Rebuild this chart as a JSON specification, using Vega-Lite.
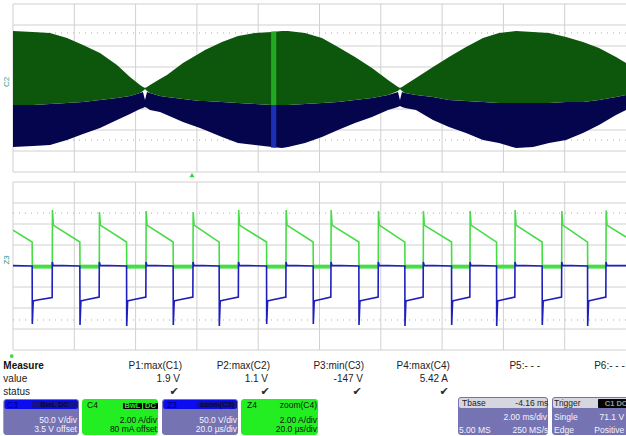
{
  "$schema": "https://vega.github.io/schema/vega-lite/v6.json",
  "padding": 0,
  "spacing": 0,
  "bounds": "flush",
  "background": "#ffffff",
  "config": {"view": {"stroke": null}, "text": {"font": "Liberation Sans"}, "legend": {"disable": true}},
  "datasets": {
    "topGridX": [{"t": -5.84}, {"t": -3.84}, {"t": -1.84}, {"t": 0.16}, {"t": 2.16}, {"t": 4.16}, {"t": 6.16}, {"t": 8.16}, {"t": 10.16}, {"t": 12.16}],
    "botGridX": [{"t": 0}, {"t": 20}, {"t": 40}, {"t": 60}, {"t": 80}, {"t": 100}, {"t": 120}, {"t": 140}, {"t": 160}, {"t": 180}],
    "gridY": [{"v": -4}, {"v": -3}, {"v": -2}, {"v": -1}, {"v": 0}, {"v": 1}, {"v": 2}, {"v": 3}, {"v": 4}],
    "topDots": [{"v": 2.62}, {"v": -2.48}],
    "botDots": [{"v": 2.52}, {"v": -2.57}],
    "env": [
      {"t": -5.84, "gTop": 2.714, "gBot": -0.81, "nTop": -0.81, "nBot": -2.81},
      {"t": -5.187, "gTop": 2.667, "gBot": -0.81, "nTop": -0.81, "nBot": -2.762},
      {"t": -4.633, "gTop": 2.619, "gBot": -0.762, "nTop": -0.762, "nBot": -2.714},
      {"t": -4.078, "gTop": 2.381, "gBot": -0.714, "nTop": -0.714, "nBot": -2.476},
      {"t": -3.556, "gTop": 2.048, "gBot": -0.667, "nTop": -0.667, "nBot": -2.19},
      {"t": -3.002, "gTop": 1.667, "gBot": -0.571, "nTop": -0.571, "nBot": -1.905},
      {"t": -2.447, "gTop": 1.095, "gBot": -0.476, "nTop": -0.476, "nBot": -1.524},
      {"t": -2.023, "gTop": 0.524, "gBot": -0.381, "nTop": -0.381, "nBot": -1.238},
      {"t": -1.697, "gTop": 0.143, "gBot": -0.238, "nTop": -0.238, "nBot": -1.0},
      {"t": -1.599, "gTop": 0.048, "gBot": -0.143, "nTop": -0.19, "nBot": -0.952},
      {"t": -1.533, "gTop": 0.0, "gBot": -0.048, "nTop": -0.571, "nBot": -0.905},
      {"t": -1.468, "gTop": 0.048, "gBot": -0.143, "nTop": -0.19, "nBot": -0.952},
      {"t": -1.37, "gTop": 0.143, "gBot": -0.238, "nTop": -0.238, "nBot": -1.048},
      {"t": -1.044, "gTop": 0.429, "gBot": -0.381, "nTop": -0.381, "nBot": -1.143},
      {"t": -0.816, "gTop": 0.619, "gBot": -0.429, "nTop": -0.429, "nBot": -1.286},
      {"t": -0.294, "gTop": 1.19, "gBot": -0.524, "nTop": -0.524, "nBot": -1.619},
      {"t": 0.261, "gTop": 1.667, "gBot": -0.619, "nTop": -0.619, "nBot": -1.905},
      {"t": 0.424, "gTop": 1.81, "gBot": -0.619, "nTop": -0.619, "nBot": -2.0},
      {"t": 0.979, "gTop": 2.19, "gBot": -0.667, "nTop": -0.667, "nBot": -2.333},
      {"t": 1.501, "gTop": 2.476, "gBot": -0.714, "nTop": -0.714, "nBot": -2.619},
      {"t": 2.056, "gTop": 2.619, "gBot": -0.762, "nTop": -0.762, "nBot": -2.714},
      {"t": 2.61, "gTop": 2.667, "gBot": -0.81, "nTop": -0.81, "nBot": -2.81},
      {"t": 2.936, "gTop": 2.714, "gBot": -0.81, "nTop": -0.81, "nBot": -2.857},
      {"t": 3.132, "gTop": 2.714, "gBot": -0.81, "nTop": -0.81, "nBot": -2.81},
      {"t": 3.687, "gTop": 2.619, "gBot": -0.762, "nTop": -0.762, "nBot": -2.619},
      {"t": 4.241, "gTop": 2.381, "gBot": -0.714, "nTop": -0.714, "nBot": -2.333},
      {"t": 4.763, "gTop": 1.952, "gBot": -0.667, "nTop": -0.667, "nBot": -2.0},
      {"t": 5.318, "gTop": 1.476, "gBot": -0.571, "nTop": -0.571, "nBot": -1.667},
      {"t": 5.873, "gTop": 0.952, "gBot": -0.476, "nTop": -0.476, "nBot": -1.381},
      {"t": 6.395, "gTop": 0.381, "gBot": -0.333, "nTop": -0.333, "nBot": -1.048},
      {"t": 6.721, "gTop": 0.048, "gBot": -0.143, "nTop": -0.19, "nBot": -0.905},
      {"t": 6.786, "gTop": 0.0, "gBot": -0.048, "nTop": -0.571, "nBot": -0.857},
      {"t": 6.851, "gTop": 0.048, "gBot": -0.143, "nTop": -0.19, "nBot": -0.905},
      {"t": 6.95, "gTop": 0.143, "gBot": -0.238, "nTop": -0.238, "nBot": -0.952},
      {"t": 7.308, "gTop": 0.476, "gBot": -0.333, "nTop": -0.333, "nBot": -1.048},
      {"t": 7.863, "gTop": 1.0, "gBot": -0.429, "nTop": -0.429, "nBot": -1.524},
      {"t": 8.385, "gTop": 1.476, "gBot": -0.571, "nTop": -0.571, "nBot": -1.857},
      {"t": 8.94, "gTop": 1.952, "gBot": -0.619, "nTop": -0.619, "nBot": -2.143},
      {"t": 9.494, "gTop": 2.381, "gBot": -0.667, "nTop": -0.667, "nBot": -2.476},
      {"t": 10.016, "gTop": 2.619, "gBot": -0.714, "nTop": -0.714, "nBot": -2.619},
      {"t": 10.571, "gTop": 2.714, "gBot": -0.714, "nTop": -0.714, "nBot": -2.857},
      {"t": 11.126, "gTop": 2.667, "gBot": -0.714, "nTop": -0.714, "nBot": -2.81},
      {"t": 11.648, "gTop": 2.619, "gBot": -0.714, "nTop": -0.714, "nBot": -2.619},
      {"t": 12.203, "gTop": 2.429, "gBot": -0.667, "nTop": -0.667, "nBot": -2.476},
      {"t": 12.757, "gTop": 2.19, "gBot": -0.667, "nTop": -0.667, "nBot": -2.143},
      {"t": 13.279, "gTop": 1.905, "gBot": -0.571, "nTop": -0.571, "nBot": -1.762},
      {"t": 13.834, "gTop": 1.476, "gBot": -0.429, "nTop": -0.429, "nBot": -1.286},
      {"t": 14.16, "gTop": 1.19, "gBot": -0.333, "nTop": -0.333, "nBot": -1.048}
    ],
    "zoomBar": [
      {"part": "upper", "t1": 2.58, "t2": 2.75, "v1": 2.69, "v2": -0.81},
      {"part": "lower", "t1": 2.58, "t2": 2.75, "v1": -0.81, "v2": -2.84}
    ],
    "green": [
      {"t": 0, "v": 1.71}, {"t": 6.25, "v": 1.14}, {"t": 6.3, "v": 0},
      {"t": 12.82, "v": 0}, {"t": 12.87, "v": 2.67}, {"t": 13.17, "v": 1.95}, {"t": 14.02, "v": 1.86}, {"t": 21.81, "v": 1.14}, {"t": 21.86, "v": 0},
      {"t": 28.16, "v": 0}, {"t": 28.21, "v": 2.57}, {"t": 28.51, "v": 1.95}, {"t": 29.36, "v": 1.86}, {"t": 37.05, "v": 1.14}, {"t": 37.1, "v": 0},
      {"t": 43.39, "v": 0}, {"t": 43.44, "v": 2.62}, {"t": 43.74, "v": 1.95}, {"t": 44.59, "v": 1.86}, {"t": 52.25, "v": 1.14}, {"t": 52.3, "v": 0},
      {"t": 58.73, "v": 0}, {"t": 58.78, "v": 2.57}, {"t": 59.08, "v": 1.95}, {"t": 59.93, "v": 1.86}, {"t": 67.26, "v": 1.14}, {"t": 67.31, "v": 0},
      {"t": 73.57, "v": 0}, {"t": 73.62, "v": 2.67}, {"t": 73.92, "v": 1.95}, {"t": 74.77, "v": 1.86}, {"t": 82.72, "v": 1.14}, {"t": 82.77, "v": 0},
      {"t": 89.07, "v": 0}, {"t": 89.12, "v": 2.67}, {"t": 89.42, "v": 1.95}, {"t": 90.27, "v": 1.86}, {"t": 97.93, "v": 1.14}, {"t": 97.98, "v": 0},
      {"t": 103.75, "v": 0}, {"t": 103.8, "v": 2.67}, {"t": 104.1, "v": 1.95}, {"t": 104.95, "v": 1.86}, {"t": 112.84, "v": 1.14}, {"t": 112.89, "v": 0},
      {"t": 119.18, "v": 0}, {"t": 119.23, "v": 2.62}, {"t": 119.53, "v": 1.95}, {"t": 120.38, "v": 1.86}, {"t": 127.84, "v": 1.14}, {"t": 127.89, "v": 0},
      {"t": 133.86, "v": 0}, {"t": 133.91, "v": 2.62}, {"t": 134.21, "v": 1.95}, {"t": 135.06, "v": 1.86}, {"t": 143.08, "v": 1.14}, {"t": 143.13, "v": 0},
      {"t": 149.1, "v": 0}, {"t": 149.15, "v": 2.62}, {"t": 149.45, "v": 1.95}, {"t": 150.3, "v": 1.86}, {"t": 157.76, "v": 1.14}, {"t": 157.81, "v": 0},
      {"t": 163.78, "v": 0}, {"t": 163.83, "v": 2.67}, {"t": 164.13, "v": 1.95}, {"t": 164.98, "v": 1.86}, {"t": 172.64, "v": 1.14}, {"t": 172.69, "v": 0},
      {"t": 179.02, "v": 0}, {"t": 179.07, "v": 2.62}, {"t": 179.37, "v": 1.95}, {"t": 180.22, "v": 1.86}, {"t": 187.45, "v": 1.14}, {"t": 187.5, "v": 0},
      {"t": 193.47, "v": 0}, {"t": 193.52, "v": 2.64}, {"t": 193.82, "v": 1.95}, {"t": 194.67, "v": 1.86}, {"t": 200, "v": 1.38}
    ],
    "greenLow": [
      {"t1": 6.3, "t2": 12.82}, {"t1": 21.86, "t2": 28.16}, {"t1": 37.1, "t2": 43.39}, {"t1": 52.3, "t2": 58.73},
      {"t1": 67.31, "t2": 73.57}, {"t1": 82.77, "t2": 89.07}, {"t1": 97.98, "t2": 103.75}, {"t1": 112.89, "t2": 119.18},
      {"t1": 127.89, "t2": 133.86}, {"t1": 143.13, "t2": 149.1}, {"t1": 157.81, "t2": 163.78}, {"t1": 172.69, "t2": 179.02},
      {"t1": 187.5, "t2": 193.47}
    ],
    "blue": [
      {"t": 0, "v": 0.02}, {"t": 6.25, "v": 0.0}, {"t": 6.3, "v": -2.76}, {"t": 6.6, "v": -1.66}, {"t": 8.0, "v": -1.62}, {"t": 12.77, "v": -1.5}, {"t": 12.82, "v": 0.19}, {"t": 13.1, "v": 0.03},
      {"t": 21.81, "v": 0}, {"t": 21.86, "v": -2.81}, {"t": 22.16, "v": -1.66}, {"t": 23.46, "v": -1.62}, {"t": 28.11, "v": -1.48}, {"t": 28.16, "v": 0.19}, {"t": 28.46, "v": 0.03},
      {"t": 37.05, "v": 0}, {"t": 37.1, "v": -2.86}, {"t": 37.4, "v": -1.66}, {"t": 38.7, "v": -1.62}, {"t": 43.34, "v": -1.48}, {"t": 43.39, "v": 0.19}, {"t": 43.69, "v": 0.03},
      {"t": 52.25, "v": 0}, {"t": 52.3, "v": -2.81}, {"t": 52.6, "v": -1.66}, {"t": 53.9, "v": -1.62}, {"t": 58.68, "v": -1.48}, {"t": 58.73, "v": 0.19}, {"t": 59.03, "v": 0.03},
      {"t": 67.26, "v": 0}, {"t": 67.31, "v": -2.86}, {"t": 67.61, "v": -1.66}, {"t": 68.91, "v": -1.62}, {"t": 73.52, "v": -1.48}, {"t": 73.57, "v": 0.19}, {"t": 73.87, "v": 0.03},
      {"t": 82.72, "v": 0}, {"t": 82.77, "v": -2.76}, {"t": 83.07, "v": -1.66}, {"t": 84.37, "v": -1.62}, {"t": 89.02, "v": -1.48}, {"t": 89.07, "v": 0.19}, {"t": 89.37, "v": 0.03},
      {"t": 97.93, "v": 0}, {"t": 97.98, "v": -2.76}, {"t": 98.28, "v": -1.66}, {"t": 99.58, "v": -1.62}, {"t": 103.7, "v": -1.48}, {"t": 103.75, "v": 0.19}, {"t": 104.05, "v": 0.03},
      {"t": 112.84, "v": 0}, {"t": 112.89, "v": -2.81}, {"t": 113.19, "v": -1.66}, {"t": 114.49, "v": -1.62}, {"t": 119.13, "v": -1.48}, {"t": 119.18, "v": 0.19}, {"t": 119.48, "v": 0.03},
      {"t": 127.84, "v": 0}, {"t": 127.89, "v": -2.86}, {"t": 128.19, "v": -1.66}, {"t": 129.49, "v": -1.62}, {"t": 133.81, "v": -1.48}, {"t": 133.86, "v": 0.19}, {"t": 134.16, "v": 0.03},
      {"t": 143.08, "v": 0}, {"t": 143.13, "v": -2.81}, {"t": 143.43, "v": -1.66}, {"t": 144.73, "v": -1.62}, {"t": 149.05, "v": -1.48}, {"t": 149.1, "v": 0.19}, {"t": 149.4, "v": 0.03},
      {"t": 157.76, "v": 0}, {"t": 157.81, "v": -2.86}, {"t": 158.11, "v": -1.66}, {"t": 159.41, "v": -1.62}, {"t": 163.73, "v": -1.48}, {"t": 163.78, "v": 0.19}, {"t": 164.08, "v": 0.03},
      {"t": 172.64, "v": 0}, {"t": 172.69, "v": -2.81}, {"t": 172.99, "v": -1.66}, {"t": 174.29, "v": -1.62}, {"t": 178.97, "v": -1.48}, {"t": 179.02, "v": 0.19}, {"t": 179.32, "v": 0.03},
      {"t": 187.45, "v": 0}, {"t": 187.5, "v": -2.86}, {"t": 187.8, "v": -1.66}, {"t": 189.1, "v": -1.62}, {"t": 193.42, "v": -1.48}, {"t": 193.47, "v": 0.19}, {"t": 193.77, "v": 0.03},
      {"t": 200, "v": 0.02}
    ],
    "measHead": [
      {"c": 29.07, "l": 1.46, "text": "P1:max(C1)"},
      {"c": 43.13, "l": 1.46, "text": "P2:max(C2)"},
      {"c": 58.15, "l": 1.46, "text": "P3:min(C3)"},
      {"c": 71.88, "l": 1.46, "text": "P4:max(C4)"},
      {"c": 86.26, "l": 1.46, "text": "P5:- - -"},
      {"c": 99.8, "l": 1.46, "text": "P6:- - -"},
      {"c": 28.75, "l": 3.05, "text": "1.9 V"},
      {"c": 42.81, "l": 3.05, "text": "1.1 V"},
      {"c": 57.99, "l": 3.05, "text": "-147 V"},
      {"c": 71.57, "l": 3.05, "text": "5.42 A"}
    ],
    "measRows": [
      {"c": 0.53, "l": 3.05, "text": "value"},
      {"c": 0.53, "l": 4.63, "text": "status"}
    ],
    "checks": [
      {"c": 27.8, "l": 4.63, "text": "✔"},
      {"c": 42.33, "l": 4.63, "text": "✔"},
      {"c": 57.03, "l": 4.63, "text": "✔"},
      {"c": 70.93, "l": 4.63, "text": "✔"}
    ],
    "boxes": [
      {"g": "C3", "c1": 0.53, "c2": 12.62, "l1": 5.49, "l2": 9.88},
      {"g": "C4", "c1": 13.1, "c2": 25.24, "l1": 5.49, "l2": 9.88},
      {"g": "Z3", "c1": 25.88, "c2": 38.02, "l1": 5.49, "l2": 9.88},
      {"g": "Z4", "c1": 38.5, "c2": 50.8, "l1": 5.49, "l2": 9.88},
      {"g": "Tbase", "c1": 73.16, "c2": 87.54, "l1": 5.24, "l2": 9.88},
      {"g": "Trigger", "c1": 88.18, "c2": 101.0, "l1": 5.24, "l2": 9.88}
    ],
    "strips": [
      {"g": "C3", "c1": 0.72, "c2": 12.46, "l1": 5.61, "l2": 6.71},
      {"g": "Z3", "c1": 26.07, "c2": 37.86, "l1": 5.61, "l2": 6.71},
      {"g": "Tbase", "c1": 73.32, "c2": 87.38, "l1": 5.37, "l2": 6.59},
      {"g": "Trigger", "c1": 88.34, "c2": 101.0, "l1": 5.37, "l2": 6.59}
    ],
    "tags": [
      {"g": "C3", "c1": 5.11, "c2": 12.3, "l1": 5.73, "l2": 6.59},
      {"g": "Z3", "c1": 31.47, "c2": 37.86, "l1": 5.73, "l2": 6.59},
      {"g": "C4", "c1": 19.65, "c2": 22.68, "l1": 5.98, "l2": 6.71},
      {"g": "C4", "c1": 22.84, "c2": 25.24, "l1": 5.98, "l2": 6.71},
      {"g": "Trigger", "c1": 95.53, "c2": 101.0, "l1": 5.49, "l2": 6.59}
    ],
    "tagText": [
      {"g": "C3", "c": 8.7, "l": 6.16, "text": "BwL DC"},
      {"g": "Z3", "c": 34.66, "l": 6.16, "text": "zoom(C3)"},
      {"g": "C4", "c": 21.17, "l": 6.37, "text": "BwL"},
      {"g": "C4", "c": 24.04, "l": 6.37, "text": "DC"},
      {"g": "Trigger", "c": 98.4, "l": 6.04, "text": "C1 DC"}
    ],
    "textLeft": [
      {"g": "C3", "c": 1.12, "l": 6.16, "text": "C3"},
      {"g": "C4", "c": 13.9, "l": 6.16, "text": "C4"},
      {"g": "Z3", "c": 26.68, "l": 6.16, "text": "Z3"},
      {"g": "Z4", "c": 39.46, "l": 6.16, "text": "Z4"},
      {"g": "Tbase", "c": 73.8, "l": 5.98, "text": "Tbase"},
      {"g": "Trigger", "c": 88.5, "l": 5.98, "text": "Trigger"},
      {"g": "Tbase body", "c": 73.32, "l": 9.27, "text": "5.00 MS"},
      {"g": "Trigger body", "c": 88.5, "l": 7.65, "text": "Single"},
      {"g": "Trigger body", "c": 88.5, "l": 9.27, "text": "Edge"}
    ],
    "textRight": [
      {"g": "Z4", "c": 50.64, "l": 6.16, "text": "zoom(C4)"},
      {"g": "Tbase", "c": 87.6, "l": 5.98, "text": "-4.16 ms"},
      {"g": "C3 body", "c": 12.3, "l": 8.05, "text": "50.0 V/div"},
      {"g": "C3 body", "c": 12.3, "l": 9.15, "text": "3.5 V offset"},
      {"g": "C4", "c": 25.08, "l": 8.05, "text": "2.00 A/div"},
      {"g": "C4", "c": 25.08, "l": 9.15, "text": "80 mA offset"},
      {"g": "Z3 body", "c": 37.86, "l": 8.05, "text": "50.0 V/div"},
      {"g": "Z3 body", "c": 37.86, "l": 9.15, "text": "20.0 µs/div"},
      {"g": "Z4", "c": 50.64, "l": 8.05, "text": "2.00 A/div"},
      {"g": "Z4", "c": 50.64, "l": 9.15, "text": "20.0 µs/div"},
      {"g": "Tbase body", "c": 87.38, "l": 7.65, "text": "2.00 ms/div"},
      {"g": "Tbase body", "c": 87.6, "l": 9.27, "text": "250 MS/s"},
      {"g": "Trigger body", "c": 99.7, "l": 7.65, "text": "71.1 V"},
      {"g": "Trigger body", "c": 99.7, "l": 9.27, "text": "Positive"}
    ]
  },
  "vconcat": [
    {
      "width": 626,
      "height": 177,
      "layer": [
        {
          "data": {"name": "topGridX"},
          "mark": {"type": "rule", "color": "#d0d0d0", "strokeWidth": 1},
          "encoding": {
            "x": {"field": "t", "type": "quantitative", "scale": {"domain": [-6.264, 14.16], "nice": false, "zero": false}, "axis": null},
            "y": {"datum": -4, "type": "quantitative", "scale": {"domain": [-4.238, 4.19], "nice": false, "zero": false}, "axis": null},
            "y2": {"datum": 4}
          }
        },
        {
          "data": {"name": "gridY"},
          "mark": {"type": "rule", "color": "#d0d0d0", "strokeWidth": 1},
          "encoding": {
            "y": {"field": "v", "type": "quantitative", "scale": {"domain": [-4.238, 4.19], "nice": false, "zero": false}, "axis": null},
            "x": {"datum": -5.84, "type": "quantitative", "scale": {"domain": [-6.264, 14.16], "nice": false, "zero": false}, "axis": null},
            "x2": {"datum": 14.16}
          }
        },
        {
          "data": {"name": "topDots"},
          "mark": {"type": "rule", "color": "#a8a8a8", "strokeWidth": 1, "strokeDash": [1, 5]},
          "encoding": {
            "y": {"field": "v", "type": "quantitative", "scale": {"domain": [-4.238, 4.19], "nice": false, "zero": false}, "axis": null},
            "x": {"datum": -5.84, "type": "quantitative", "scale": {"domain": [-6.264, 14.16], "nice": false, "zero": false}, "axis": null},
            "x2": {"datum": 14.16}
          }
        },
        {
          "data": {"name": "env"},
          "mark": {"type": "area", "color": "#05054e", "opacity": 1},
          "encoding": {
            "x": {"field": "t", "type": "quantitative", "scale": {"domain": [-6.264, 14.16], "nice": false, "zero": false}, "axis": null},
            "y": {"field": "nTop", "type": "quantitative", "scale": {"domain": [-4.238, 4.19], "nice": false, "zero": false}, "axis": null},
            "y2": {"field": "nBot"}
          }
        },
        {
          "data": {"name": "env"},
          "mark": {"type": "area", "color": "#0c570c", "opacity": 1},
          "encoding": {
            "x": {"field": "t", "type": "quantitative", "scale": {"domain": [-6.264, 14.16], "nice": false, "zero": false}, "axis": null},
            "y": {"field": "gTop", "type": "quantitative", "scale": {"domain": [-4.238, 4.19], "nice": false, "zero": false}, "axis": null},
            "y2": {"field": "gBot"}
          }
        },
        {
          "data": {"name": "zoomBar"},
          "mark": {"type": "rect"},
          "encoding": {
            "x": {"field": "t1", "type": "quantitative", "scale": {"domain": [-6.264, 14.16], "nice": false, "zero": false}, "axis": null},
            "x2": {"field": "t2"},
            "y": {"field": "v1", "type": "quantitative", "scale": {"domain": [-4.238, 4.19], "nice": false, "zero": false}, "axis": null},
            "y2": {"field": "v2"},
            "color": {"field": "part", "type": "nominal", "scale": {"domain": ["upper", "lower"], "range": ["#23a823", "#1b2fb5"]}}
          }
        },
        {
          "mark": {"type": "rule", "color": "#3cbf3c", "strokeWidth": 1},
          "encoding": {
            "y": {"datum": 0, "type": "quantitative", "scale": {"domain": [-4.238, 4.19], "nice": false, "zero": false}, "axis": null},
            "x": {"datum": -5.84, "type": "quantitative", "scale": {"domain": [-6.264, 14.16], "nice": false, "zero": false}, "axis": null},
            "x2": {"datum": 14.16}
          }
        },
        {
          "data": {"values": [{"t": -6.04, "v": 0.29, "label": "C2"}]},
          "mark": {"type": "text", "angle": 270, "fontSize": 8, "color": "#1f9a8c", "baseline": "middle", "align": "center"},
          "encoding": {
            "x": {"field": "t", "type": "quantitative", "scale": {"domain": [-6.264, 14.16], "nice": false, "zero": false}, "axis": null},
            "y": {"field": "v", "type": "quantitative", "scale": {"domain": [-4.238, 4.19], "nice": false, "zero": false}, "axis": null},
            "text": {"field": "label"}
          }
        },
        {
          "data": {"values": [{"t": 0, "v": -4.15}]},
          "mark": {"type": "point", "shape": "triangle-up", "filled": true, "size": 26, "color": "#2fd82f", "opacity": 1},
          "encoding": {
            "x": {"field": "t", "type": "quantitative", "scale": {"domain": [-6.264, 14.16], "nice": false, "zero": false}, "axis": null},
            "y": {"field": "v", "type": "quantitative", "scale": {"domain": [-4.238, 4.19], "nice": false, "zero": false}, "axis": null}
          }
        }
      ]
    },
    {
      "width": 626,
      "height": 177,
      "layer": [
        {
          "data": {"name": "botGridX"},
          "mark": {"type": "rule", "color": "#d0d0d0", "strokeWidth": 1},
          "encoding": {
            "x": {"field": "t", "type": "quantitative", "scale": {"domain": [-4.241, 200], "nice": false, "zero": false}, "axis": null},
            "y": {"datum": -4, "type": "quantitative", "scale": {"domain": [-4.19, 4.238], "nice": false, "zero": false}, "axis": null},
            "y2": {"datum": 4}
          }
        },
        {
          "data": {"name": "gridY"},
          "mark": {"type": "rule", "color": "#d0d0d0", "strokeWidth": 1},
          "encoding": {
            "y": {"field": "v", "type": "quantitative", "scale": {"domain": [-4.19, 4.238], "nice": false, "zero": false}, "axis": null},
            "x": {"datum": 0, "type": "quantitative", "scale": {"domain": [-4.241, 200], "nice": false, "zero": false}, "axis": null},
            "x2": {"datum": 200}
          }
        },
        {
          "data": {"name": "botDots"},
          "mark": {"type": "rule", "color": "#a8a8a8", "strokeWidth": 1, "strokeDash": [1, 5]},
          "encoding": {
            "y": {"field": "v", "type": "quantitative", "scale": {"domain": [-4.19, 4.238], "nice": false, "zero": false}, "axis": null},
            "x": {"datum": 0, "type": "quantitative", "scale": {"domain": [-4.241, 200], "nice": false, "zero": false}, "axis": null},
            "x2": {"datum": 200}
          }
        },
        {
          "data": {"name": "greenLow"},
          "mark": {"type": "rule", "color": "#4ddf4d", "strokeWidth": 4},
          "encoding": {
            "x": {"field": "t1", "type": "quantitative", "scale": {"domain": [-4.241, 200], "nice": false, "zero": false}, "axis": null},
            "x2": {"field": "t2"},
            "y": {"datum": -0.03, "type": "quantitative", "scale": {"domain": [-4.19, 4.238], "nice": false, "zero": false}, "axis": null}
          }
        },
        {
          "data": {"name": "green"},
          "mark": {"type": "line", "color": "#46dc46", "strokeWidth": 1.6},
          "encoding": {
            "x": {"field": "t", "type": "quantitative", "scale": {"domain": [-4.241, 200], "nice": false, "zero": false}, "axis": null},
            "y": {"field": "v", "type": "quantitative", "scale": {"domain": [-4.19, 4.238], "nice": false, "zero": false}, "axis": null}
          }
        },
        {
          "data": {"name": "blue"},
          "mark": {"type": "line", "color": "#1e1ebd", "strokeWidth": 1.6},
          "encoding": {
            "x": {"field": "t", "type": "quantitative", "scale": {"domain": [-4.241, 200], "nice": false, "zero": false}, "axis": null},
            "y": {"field": "v", "type": "quantitative", "scale": {"domain": [-4.19, 4.238], "nice": false, "zero": false}, "axis": null}
          }
        },
        {
          "data": {"values": [{"t": -1.96, "v": 0.29, "label": "Z3"}]},
          "mark": {"type": "text", "angle": 270, "fontSize": 8, "color": "#1f9a8c", "baseline": "middle", "align": "center"},
          "encoding": {
            "x": {"field": "t", "type": "quantitative", "scale": {"domain": [-4.241, 200], "nice": false, "zero": false}, "axis": null},
            "y": {"field": "v", "type": "quantitative", "scale": {"domain": [-4.19, 4.238], "nice": false, "zero": false}, "axis": null},
            "text": {"field": "label"}
          }
        }
      ]
    },
    {
      "width": 626,
      "height": 82,
      "resolve": {"scale": {"color": "independent"}},
      "layer": [
        {
          "data": {"values": [{"c": 1.87, "l": 0.25}]},
          "mark": {"type": "point", "shape": "circle", "filled": true, "size": 14, "color": "#3ddc3d", "opacity": 1},
          "encoding": {
            "x": {"field": "c", "type": "quantitative", "scale": {"domain": [0, 100], "nice": false, "zero": false}, "axis": null},
            "y": {"field": "l", "type": "quantitative", "scale": {"domain": [0, 10], "nice": false, "zero": false, "reverse": true}, "axis": null}
          }
        },
        {
          "data": {"values": [{"c": 0.53, "l": 1.46, "text": "Measure"}]},
          "mark": {"type": "text", "align": "left", "baseline": "middle", "fontSize": 10, "fontWeight": "bold", "color": "#111111"},
          "encoding": {
            "x": {"field": "c", "type": "quantitative", "scale": {"domain": [0, 100], "nice": false, "zero": false}, "axis": null},
            "y": {"field": "l", "type": "quantitative", "scale": {"domain": [0, 10], "nice": false, "zero": false, "reverse": true}, "axis": null},
            "text": {"field": "text"}
          }
        },
        {
          "data": {"name": "measRows"},
          "mark": {"type": "text", "align": "left", "baseline": "middle", "fontSize": 10, "color": "#222222"},
          "encoding": {
            "x": {"field": "c", "type": "quantitative", "scale": {"domain": [0, 100], "nice": false, "zero": false}, "axis": null},
            "y": {"field": "l", "type": "quantitative", "scale": {"domain": [0, 10], "nice": false, "zero": false, "reverse": true}, "axis": null},
            "text": {"field": "text"}
          }
        },
        {
          "data": {"name": "measHead"},
          "mark": {"type": "text", "align": "right", "baseline": "middle", "fontSize": 10, "color": "#222222"},
          "encoding": {
            "x": {"field": "c", "type": "quantitative", "scale": {"domain": [0, 100], "nice": false, "zero": false}, "axis": null},
            "y": {"field": "l", "type": "quantitative", "scale": {"domain": [0, 10], "nice": false, "zero": false, "reverse": true}, "axis": null},
            "text": {"field": "text"}
          }
        },
        {
          "data": {"name": "checks"},
          "mark": {"type": "text", "align": "center", "baseline": "middle", "fontSize": 11, "font": "DejaVu Sans", "color": "#2a2a2a"},
          "encoding": {
            "x": {"field": "c", "type": "quantitative", "scale": {"domain": [0, 100], "nice": false, "zero": false}, "axis": null},
            "y": {"field": "l", "type": "quantitative", "scale": {"domain": [0, 10], "nice": false, "zero": false, "reverse": true}, "axis": null},
            "text": {"field": "text"}
          }
        },
        {
          "data": {"name": "boxes"},
          "mark": {"type": "rect", "cornerRadius": 3},
          "encoding": {
            "x": {"field": "c1", "type": "quantitative", "scale": {"domain": [0, 100], "nice": false, "zero": false}, "axis": null},
            "x2": {"field": "c2"},
            "y": {"field": "l1", "type": "quantitative", "scale": {"domain": [0, 10], "nice": false, "zero": false, "reverse": true}, "axis": null},
            "y2": {"field": "l2"},
            "color": {"field": "g", "type": "nominal", "scale": {"domain": ["C3", "C4", "Z3", "Z4", "Tbase", "Trigger"], "range": ["#7573b1", "#22ee22", "#7573b1", "#22ee22", "#7573b1", "#7573b1"]}}
          }
        },
        {
          "data": {"name": "strips"},
          "mark": {"type": "rect", "cornerRadius": 2},
          "encoding": {
            "x": {"field": "c1", "type": "quantitative", "scale": {"domain": [0, 100], "nice": false, "zero": false}, "axis": null},
            "x2": {"field": "c2"},
            "y": {"field": "l1", "type": "quantitative", "scale": {"domain": [0, 10], "nice": false, "zero": false, "reverse": true}, "axis": null},
            "y2": {"field": "l2"},
            "color": {"field": "g", "type": "nominal", "scale": {"domain": ["C3", "Z3", "Tbase", "Trigger"], "range": ["#0c0cf0", "#0c0cf0", "#d6d6de", "#d6d6de"]}}
          }
        },
        {
          "data": {"name": "tags"},
          "mark": {"type": "rect", "cornerRadius": 1},
          "encoding": {
            "x": {"field": "c1", "type": "quantitative", "scale": {"domain": [0, 100], "nice": false, "zero": false}, "axis": null},
            "x2": {"field": "c2"},
            "y": {"field": "l1", "type": "quantitative", "scale": {"domain": [0, 10], "nice": false, "zero": false, "reverse": true}, "axis": null},
            "y2": {"field": "l2"},
            "color": {"field": "g", "type": "nominal", "scale": {"domain": ["C3", "Z3", "C4", "Trigger"], "range": ["#14148a", "#14148a", "#050505", "#050505"]}}
          }
        },
        {
          "data": {"name": "tagText"},
          "mark": {"type": "text", "align": "center", "baseline": "middle", "fontSize": 7.5, "fontWeight": "bold"},
          "encoding": {
            "x": {"field": "c", "type": "quantitative", "scale": {"domain": [0, 100], "nice": false, "zero": false}, "axis": null},
            "y": {"field": "l", "type": "quantitative", "scale": {"domain": [0, 10], "nice": false, "zero": false, "reverse": true}, "axis": null},
            "text": {"field": "text"},
            "color": {"field": "g", "type": "nominal", "scale": {"domain": ["C3", "Z3", "C4", "Trigger"], "range": ["#06064a", "#06064a", "#22ee22", "#9a9a9a"]}}
          }
        },
        {
          "data": {"name": "textLeft"},
          "mark": {"type": "text", "align": "left", "baseline": "middle", "fontSize": 8.5},
          "encoding": {
            "x": {"field": "c", "type": "quantitative", "scale": {"domain": [0, 100], "nice": false, "zero": false}, "axis": null},
            "y": {"field": "l", "type": "quantitative", "scale": {"domain": [0, 10], "nice": false, "zero": false, "reverse": true}, "axis": null},
            "text": {"field": "text"},
            "color": {"field": "g", "type": "nominal", "scale": {"domain": ["C3", "C4", "Z3", "Z4", "Tbase", "Trigger", "Tbase body", "Trigger body"], "range": ["#00006a", "#111111", "#00006a", "#111111", "#222222", "#222222", "#f4f4ff", "#f4f4ff"]}}
          }
        },
        {
          "data": {"name": "textRight"},
          "mark": {"type": "text", "align": "right", "baseline": "middle", "fontSize": 8.5},
          "encoding": {
            "x": {"field": "c", "type": "quantitative", "scale": {"domain": [0, 100], "nice": false, "zero": false}, "axis": null},
            "y": {"field": "l", "type": "quantitative", "scale": {"domain": [0, 10], "nice": false, "zero": false, "reverse": true}, "axis": null},
            "text": {"field": "text"},
            "color": {"field": "g", "type": "nominal", "scale": {"domain": ["Z4", "Tbase", "C3 body", "C4", "Z3 body", "Tbase body", "Trigger body"], "range": ["#111111", "#222222", "#f4f4ff", "#111111", "#f4f4ff", "#f4f4ff", "#f4f4ff"]}}
          }
        }
      ]
    }
  ]
}
